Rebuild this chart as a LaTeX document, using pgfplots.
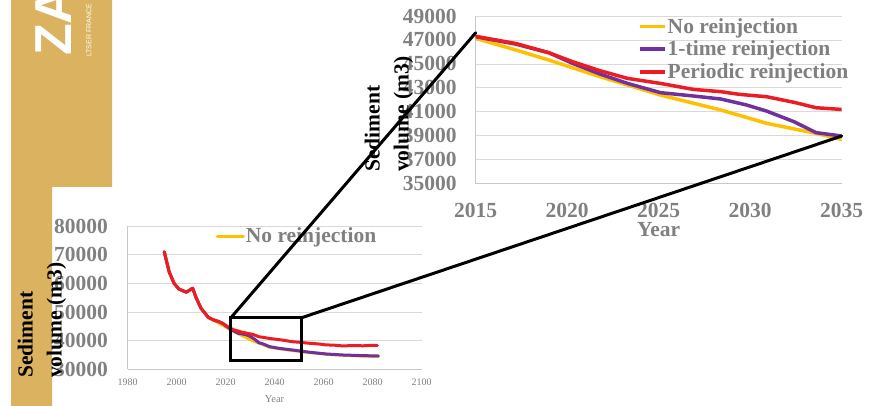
\documentclass[border=0pt]{standalone}
\usepackage{pgfplots}
\usepackage{pgfplotstable}
\pgfplotsset{compat=1.18}
\usepackage{fontspec}
\setmainfont{Liberation Serif}
\newfontfamily\logofont{Liberation Sans}
\definecolor{gold}{RGB}{218,178,96}
\definecolor{txtgray}{RGB}{128,128,128}
\definecolor{gridgray}{RGB}{217,217,217}
\definecolor{axgray}{RGB}{200,200,200}
\definecolor{cyel}{RGB}{255,192,0}
\definecolor{cpur}{RGB}{112,48,160}
\definecolor{cred}{RGB}{237,28,36}
\newcommand{\bigfont}{\fontsize{21.5}{29}\selectfont\bfseries}

\pgfplotstableread{
year vol
1995 71000
1997 64000
1999 60000
2001 58000
2004 56900
2006.6 58300
2008 55000
2010 51300
2013 48100
2015 47130
2017.2 46160
2019 45320
2021.8 43930
2025.1 42400
2028.4 41150
2030.9 40040
2033.6 39200
2035 38700
2038 37700
2042 37150
2048 36500
2055 35800
2062 35200
2068 34900
2075 34650
2082.4 34500
}\noreinj

\pgfplotstableread{
year vol
1995 71000
1997 64000
1999 60000
2001 58000
2004 56900
2006.6 58300
2008 55000
2010 51300
2013 48100
2015 47270
2017.2 46650
2019 45930
2020.3 45040
2021.8 44150
2023.3 43370
2025.1 42600
2026.9 42320
2028.4 42070
2029.8 41570
2030.9 41060
2032.4 40170
2033.6 39260
2035 38980
2038 37900
2042 37300
2047.7 36700
2054.5 35930
2061.3 35330
2068 34990
2075 34800
2082.4 34640
}\onereinj

\pgfplotstableread{
year vol
1995 71000
1997 64000
1999 60000
2001 58000
2004 56900
2006.6 58300
2008 55000
2010 51300
2013 48100
2015 47300
2017.2 46700
2019 45930
2020.3 45180
2021.8 44430
2023.3 43790
2025.1 43370
2026.9 42870
2028.4 42680
2029.4 42460
2030.9 42260
2032.4 41790
2033.6 41340
2035 41200
2038 40750
2041 40450
2044 40100
2047 39650
2050 39450
2054 39100
2058 38850
2061 38500
2064 38450
2068 38150
2072 38300
2076 38200
2080 38350
2082 38300
}\perreinj

\begin{document}
\begin{tikzpicture}[x=1pt,y=1pt]
\path[use as bounding box] (0pt,0pt) rectangle (882pt,406pt);
% gold band
\fill[gold] (11pt,406pt) -- (112pt,406pt) -- (112pt,219pt) -- (52pt,219pt) -- (52pt,0pt) -- (11pt,0pt) -- cycle;
\node[rotate=90, anchor=west, text=white, inner sep=0pt,
      font=\logofont\bfseries\fontsize{52}{52}\selectfont] at (54pt,350pt) {ZA};
\node[rotate=90, anchor=west, text=white, inner sep=0pt,
      font=\logofont\fontsize{7}{7}\selectfont] at (89pt,349pt) {LTSER FRANCE};

% small chart
\begin{axis}[
  at={(127.5pt,36.7pt)}, anchor=south west, scale only axis,
  width=294pt, height=143.3pt,
  xmin=1980, xmax=2100, ymin=30000, ymax=80000,
  xtick={1980,2000,...,2100}, ytick={30000,40000,...,80000},
  scaled x ticks=false, scaled y ticks=false,
  axis x line*=bottom, axis y line*=left,
  axis line style={axgray, line width=0.8pt},
  ymajorgrids, grid style={gridgray, line width=0.8pt},
  major tick length=0pt,
  /pgf/number format/1000 sep={},
  /pgf/number format/assume math mode=true,
  xticklabel style={font=\fontsize{10}{12}\selectfont, text=txtgray, anchor=north, inner sep=0pt, yshift=-9pt},
  yticklabel style={font=\bigfont, text=txtgray, anchor=east, inner sep=0pt, xshift=-19.5pt},
  xlabel={Year},
  xlabel style={at={(rel axis cs:0.5,0)}, anchor=center, yshift=-29.7pt, font=\fontsize{10.5}{12}\selectfont, text=txtgray},
  ylabel={Sediment\\volume (m3)},
  ylabel style={at={(rel axis cs:-0.2908,-0.0607)}, anchor=west, align=left, font=\bigfont, text=black, inner sep=0pt},
  legend style={at={(rel axis cs:0.30,0.93)}, anchor=west, draw=none, fill=none, font=\bigfont, text=txtgray, inner sep=0pt, nodes={inner sep=1pt}},
  legend cell align=left,
  legend image code/.code={\draw[#1] (0pt,0pt) -- (26pt,0pt);},
  every axis plot/.append style={line width=3pt, line join=round, line cap=round},
]
\addplot[cyel] table[x=year,y=vol] {\noreinj};
\addlegendentry{No reinjection}
\addplot[cpur, forget plot] table[x=year,y=vol] {\onereinj};
\addplot[cred, forget plot] table[x=year,y=vol] {\perreinj};
\draw[black, line width=3pt] (axis cs:2022.2,33000) rectangle (axis cs:2051.1,48000);
\coordinate (boxTL) at (axis cs:2022.2,48000);
\coordinate (boxTR) at (axis cs:2051.1,48000);
\end{axis}

% zoomed chart
\begin{axis}[
  at={(475.7pt,222.3pt)}, anchor=south west, scale only axis,
  width=366pt, height=167.7pt,
  xmin=2015, xmax=2035, ymin=35000, ymax=49000,
  xtick={2015,2020,...,2035}, ytick={35000,37000,...,49000},
  scaled x ticks=false, scaled y ticks=false,
  axis x line*=bottom, axis y line*=left,
  axis line style={axgray, line width=0.8pt},
  ymajorgrids, grid style={gridgray, line width=0.8pt},
  major tick length=0pt,
  /pgf/number format/1000 sep={},
  /pgf/number format/assume math mode=true,
  xticklabel style={font=\bigfont, text=txtgray, anchor=north, inner sep=0pt, yshift=-19pt},
  yticklabel style={font=\bigfont, text=txtgray, anchor=east, inner sep=0pt, xshift=-19pt},
  xlabel={Year},
  xlabel style={at={(rel axis cs:0.5,0)}, anchor=center, yshift=-46pt, font=\bigfont, text=txtgray},
  ylabel={Sediment\\volume (m3)},
  ylabel style={at={(rel axis cs:-0.237,0.07)}, anchor=west, align=left, font=\bigfont, text=black, inner sep=0pt},
  legend style={at={(rel axis cs:0.4435,0.994)}, anchor=north west, draw=none, fill=none, font=\bigfont, text=txtgray, inner sep=0pt, nodes={inner sep=1pt}, row sep=4.3pt},
  legend cell align=left,
  legend image code/.code={\draw[#1] (0pt,0pt) -- (25pt,0pt);},
  every axis plot/.append style={line width=3.5pt, line join=round},
]
\addplot[cyel] table[x=year,y=vol] {\noreinj};
\addlegendentry{No reinjection}
\addplot[cpur] table[x=year,y=vol] {\onereinj};
\addlegendentry{1-time reinjection}
\addplot[cred] table[x=year,y=vol] {\perreinj};
\addlegendentry{Periodic reinjection}
\coordinate (zTL) at (axis cs:2015,47600);
\coordinate (zBR) at (axis cs:2035,38980);
\end{axis}

\draw[black, line width=3pt, line cap=round] (boxTL) -- (zTL);
\draw[black, line width=3pt, line cap=round] (boxTR) -- (zBR);
\end{tikzpicture}
\end{document}
